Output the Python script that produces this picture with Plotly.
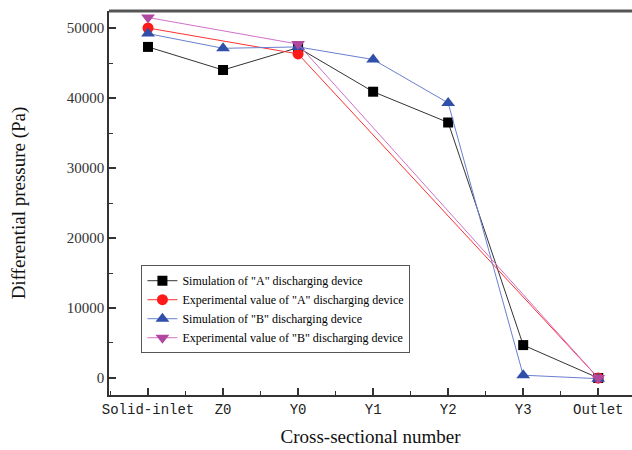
import plotly.graph_objects as go

categories = ["Solid-inlet", "Z0", "Y0", "Y1", "Y2", "Y3", "Outlet"]
sim_a = [47300, 44000, 47200, 40900, 36500, 4700, 0]
exp_a = [50000, None, 46300, None, None, None, 0]
sim_b = [49200, 47100, 47300, 45500, 39300, 400, -100]
exp_b = [51500, None, 47700, None, None, None, 0]
y_ticks = [0, 10000, 20000, 30000, 40000, 50000]

xpos = list(range(len(categories)))

series = [
    ('Simulation of "A" discharging device', sim_a, "#000000", "#333333", "square", 10),
    ('Experimental value of "A" discharging device', exp_a, "#ff1a1a", "#ff3030", "circle", 11),
    ('Simulation of "B" discharging device', sim_b, "#2f4fa8", "#6a7fd0", "triangle-up", 12),
    ('Experimental value of "B" discharging device', exp_b, "#b0489f", "#d070c8", "triangle-down", 12),
]

fig = go.Figure()
for name, vals, mcol, lcol, sym, size in series:
    fig.add_trace(go.Scatter(
        x=xpos, y=vals, name=name, mode="lines+markers", connectgaps=True,
        line=dict(color=lcol, width=1),
        marker=dict(symbol=sym, size=size, color=mcol),
    ))

fig.update_layout(
    width=632, height=450,
    margin=dict(l=109, r=0, t=11, b=55, autoexpand=False),
    plot_bgcolor="white", paper_bgcolor="white",
    showlegend=True,
    legend=dict(
        x=0.062, y=0.338, xanchor="left", yanchor="top",
        bordercolor="#555555", borderwidth=1, bgcolor="white",
        font=dict(family="Liberation Serif", size=12, color="black"),
        itemwidth=30, tracegroupgap=0,
    ),
    font=dict(family="Liberation Serif", color="black"),
)
fig.update_xaxes(
    range=[-0.52, 6.45], automargin=False,
    tickvals=xpos, ticktext=categories,
    tickfont=dict(family="Liberation Mono", size=14, color="#222222"),
    ticks="inside", ticklen=7, tickwidth=1.5, tickcolor="#333333",
    minor=dict(dtick=0.5, tick0=0, ticks="inside", ticklen=4, tickwidth=1, tickcolor="#333333"),
    showline=True, linecolor="#333333", linewidth=1.5, mirror=False,
    showgrid=False, zeroline=False,
    title=dict(text="Cross-sectional number", font=dict(family="Liberation Serif", size=19, color="#111111"), standoff=13),
)
fig.update_yaxes(
    range=[-2430, 52430], automargin=False,
    tickvals=y_ticks, ticktext=[str(v) for v in y_ticks],
    tickfont=dict(family="Liberation Serif", size=15, color="#333333"),
    ticks="inside", ticklen=7, tickwidth=1.5, tickcolor="#333333",
    minor=dict(dtick=5000, tick0=0, ticks="inside", ticklen=4, tickwidth=1, tickcolor="#333333"),
    showline=True, linecolor="#333333", linewidth=1.5,
    showgrid=False, zeroline=False,
    title=dict(text="Differential pressure (Pa)", font=dict(family="Liberation Serif", size=19, color="#111111"), standoff=36),
)
fig.add_shape(type="line", xref="paper", yref="paper", x0=0, x1=1, y0=1, y1=1,
              line=dict(color="#555555", width=3))

fig.write_html("out.html", config={"displayModeBar": False},
               post_script="document.body.style.margin='0';document.body.style.overflow='hidden';")
